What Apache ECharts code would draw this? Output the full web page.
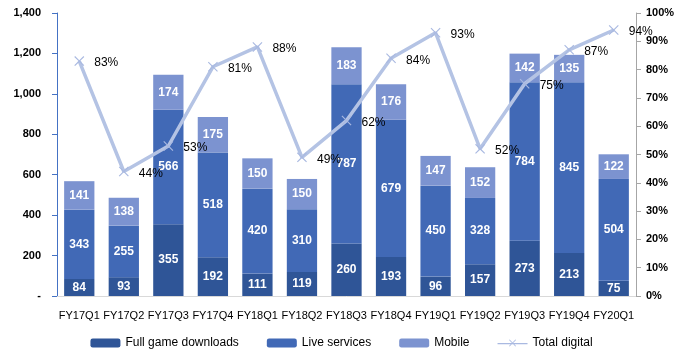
<!DOCTYPE html>
<html><head><meta charset="utf-8">
<script src="https://cdn.jsdelivr.net/npm/echarts@6/dist/echarts.min.js"></script>
<style>html,body{margin:0;padding:0;background:#fff}#c{width:683px;height:357px}</style>
</head><body><div id="c"></div>
<script>
const categories = ['FY17Q1','FY17Q2','FY17Q3','FY17Q4','FY18Q1','FY18Q2','FY18Q3','FY18Q4','FY19Q1','FY19Q2','FY19Q3','FY19Q4','FY20Q1'];
const fullGame = [84,93,355,192,111,119,260,193,96,157,273,213,75];
const liveServices = [343,255,566,518,420,310,787,679,450,328,784,845,504];
const mobile = [141,138,174,175,150,150,183,176,147,152,142,135,122];
const totalDigital = [83,44,53,81,88,49,62,84,93,52,75,87,94];

const FONT = '"Liberation Sans", Arial, sans-serif';
const chart = echarts.init(document.getElementById('c'));
const barLabel = {show:true, position:'inside', color:'#fff', fontWeight:'bold', fontSize:12, fontFamily:FONT};
const xPath = 'path://M0,0.8L0.8,0L5,4.2L9.2,0L10,0.8L5.8,5L10,9.2L9.2,10L5,5.8L0.8,10L0,9.2L4.2,5Z';
const legendLine = 'path://M0,4.3L30,4.3L30,5.7L0,5.7Z M11.5,1.5L12.1,0.9L15,3.8L17.9,0.9L18.5,1.5L15.6,4.4L18.5,7.3L17.9,7.9L15,5L12.1,7.9L11.5,7.3L14.4,4.4Z';
chart.setOption({
  animation:false,
  textStyle:{fontFamily:FONT},
  grid:{left:57, right:47, top:13, bottom:61},
  legend:{bottom:3, left:'center', itemWidth:30, itemHeight:9, itemGap:28,
    textStyle:{fontSize:12, color:'#000', fontFamily:FONT},
    data:[{name:'Full game downloads'},{name:'Live services'},{name:'Mobile'},{name:'Total digital', icon:legendLine}]},
  xAxis:{type:'category', data:categories,
    axisLine:{lineStyle:{color:'#D9D9D9'}}, axisTick:{show:false},
    axisLabel:{color:'#000', fontSize:11, margin:14, interval:0, fontFamily:FONT}},
  yAxis:[
    {type:'value', min:0, max:1400, interval:200, splitLine:{show:false},
      axisLine:{show:true, lineStyle:{color:'#4472C4'}}, axisTick:{show:true, length:5, lineStyle:{color:'#4472C4'}},
      axisLabel:{color:'#000', fontWeight:'bold', fontSize:11, margin:16, fontFamily:FONT,
        formatter:v=> v===0 ? '-' : v.toLocaleString('en-US')}},
    {type:'value', min:0, max:100, interval:10, splitLine:{show:false},
      axisLine:{show:true, lineStyle:{color:'#A6A6A6'}}, axisTick:{show:true, length:5, lineStyle:{color:'#A6A6A6'}},
      axisLabel:{color:'#000', fontWeight:'bold', fontSize:11, margin:10, fontFamily:FONT, formatter:'{value}%'}}
  ],
  series:[
    {name:'Full game downloads', type:'bar', stack:'a', data:fullGame, barWidth:'68%', itemStyle:{color:'#2F5597'}, label:barLabel},
    {name:'Live services', type:'bar', stack:'a', data:liveServices, itemStyle:{color:'#4169B6'}, label:barLabel},
    {name:'Mobile', type:'bar', stack:'a', data:mobile, itemStyle:{color:'#7C93D0'}, label:barLabel},
    {name:'Total digital', type:'line', yAxisIndex:1, data:totalDigital, z:5,
      lineStyle:{color:'#B4C3E4', width:3.5}, itemStyle:{color:'#A9B9E1'},
      symbol:xPath, symbolSize:10,
      label:{show:true, position:'right', distance:10, color:'#000', fontSize:12, fontFamily:FONT, formatter:'{c}%', offset:[0,2]}}
  ]
});
</script></body></html>
